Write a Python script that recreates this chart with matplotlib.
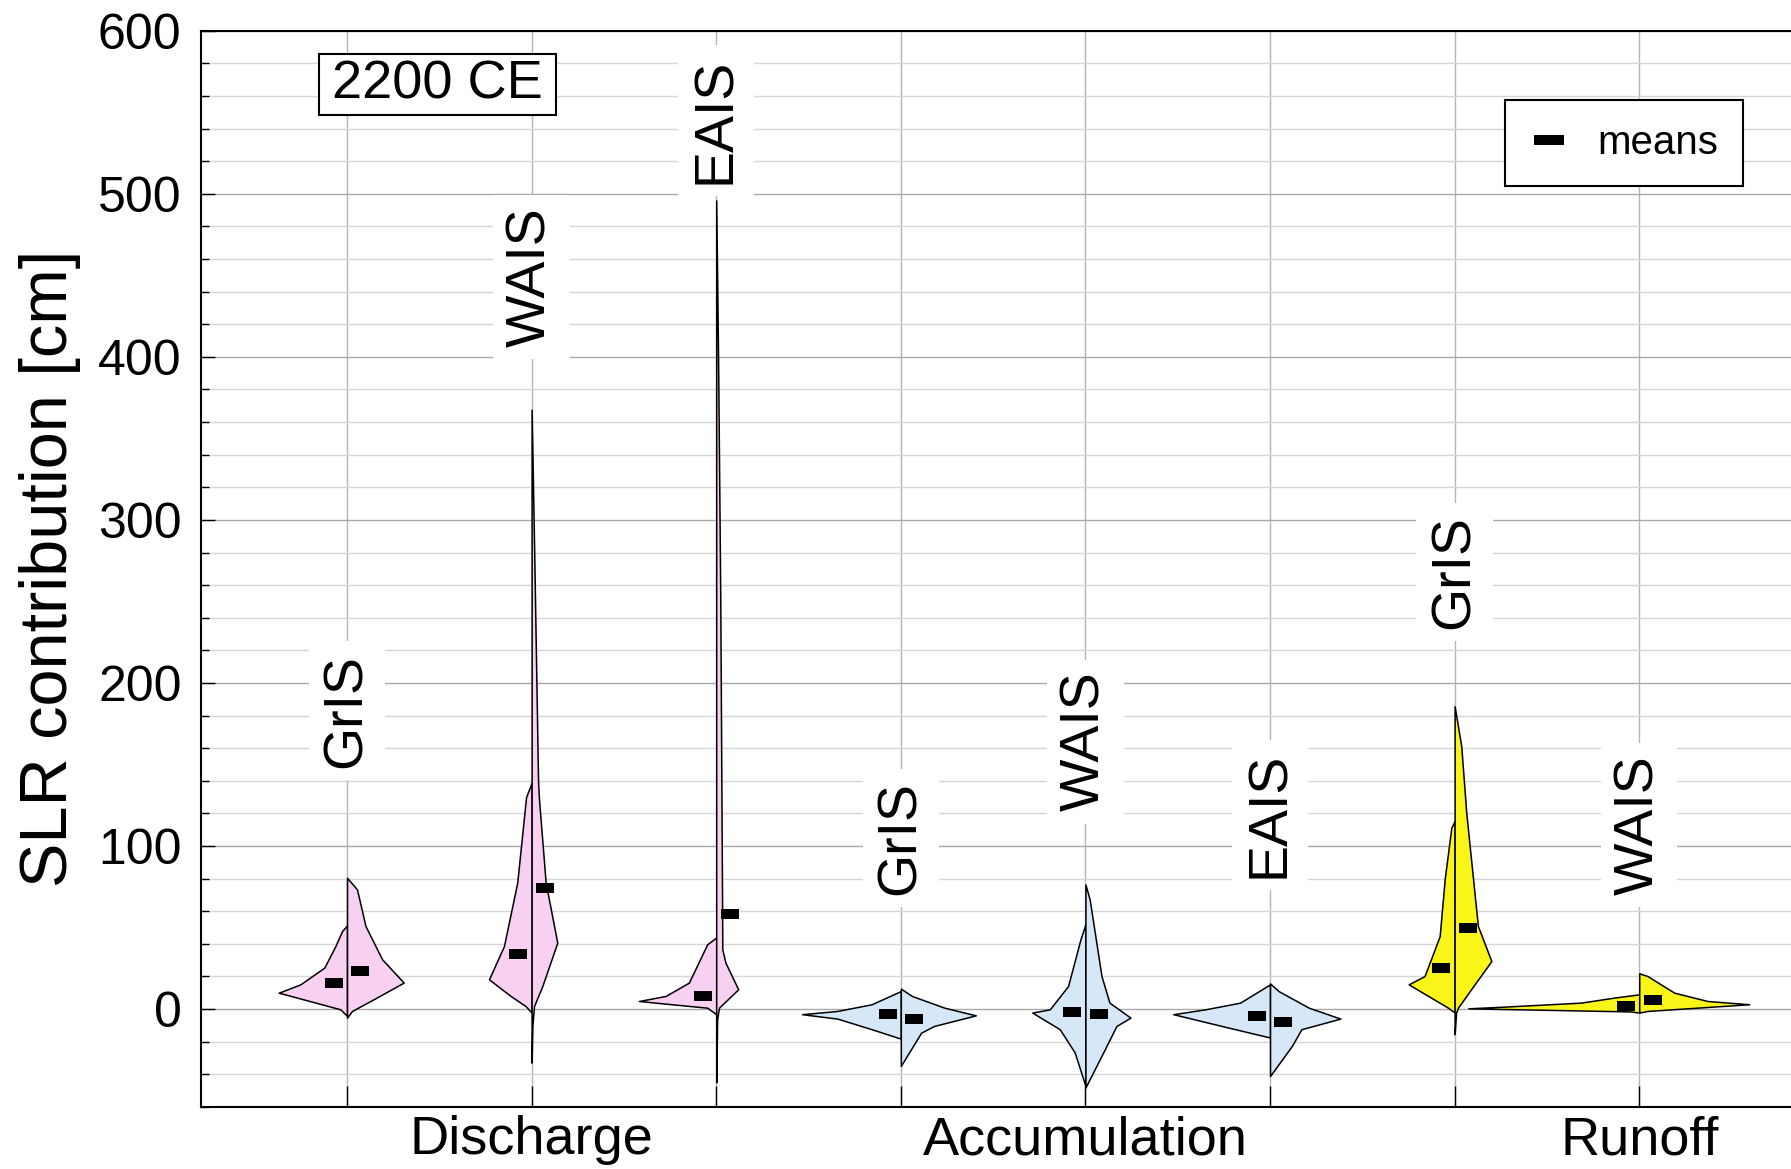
import matplotlib
matplotlib.use("Agg")
import matplotlib.pyplot as plt
from matplotlib.lines import Line2D
from matplotlib.patches import Rectangle
from matplotlib.ticker import MultipleLocator
import numpy as np

plt.rcParams["font.family"] = ["Liberation Sans", "DejaVu Sans"]

# Groups shown on the x axis and the ice sheet of each violin
group_labels = ["", "Discharge", "", "", "Accumulation", "", "", "Runoff"]
sheet_labels = ["GrIS", "WAIS", "EAIS", "GrIS", "WAIS", "EAIS", "GrIS", "WAIS"]
label_heights = [183, 449, 545, 105, 164, 119, 268, 113]

# Violin outlines: (SLR contribution [cm], relative density) from top to bottom
dis_gris_left = [(51.3, 0), (47.8, 0.027), (38.6, 0.063), (25.4, 0.123), (15.1, 0.253),
                 (10.0, 0.370), (3.9, 0.170), (-0.2, 0.036), (-4.3, 0)]
dis_gris_right = [(80.5, 0), (73.4, 0.054), (50.9, 0.10), (30.5, 0.19), (16.2, 0.307),
                  (5.9, 0.143), (-1.2, 0.027), (-5.3, 0)]
dis_wais_left = [(138.8, 0), (130, 0.03), (77.5, 0.078), (38.6, 0.15), (18.2, 0.231),
                 (8.0, 0.114), (1.8, 0.033), (-2.2, 0)]
dis_wais_right = [(367.6, 0), (280, 0.014), (139, 0.035), (128.6, 0.04), (77.5, 0.076),
                  (40.7, 0.139), (14.1, 0.058), (1.8, 0.013), (-10.4, 0.004), (-32.9, 0)]
dis_eais_left = [(43.8, 0), (39.7, 0.049), (16.2, 0.148), (8.0, 0.274), (4.9, 0.419),
                 (2.9, 0.24), (0.8, 0.049), (-3.2, 0)]
dis_eais_right = [(496, 0), (400, 0.01), (251, 0.022), (59, 0.032), (36.6, 0.033),
                  (28.4, 0.05), (12.1, 0.119), (0.8, 0.015), (-6.3, 0.005), (-45, 0)]
acc_gris_left = [(11.0, 0), (2.9, 0.158), (-1.2, 0.344), (-3.2, 0.535), (-5.9, 0.344),
                 (-12.4, 0.158), (-18.2, 0)]
acc_gris_right = [(12.5, 0), (8.0, 0.06), (0.8, 0.236), (-3.9, 0.406), (-10.4, 0.18),
                  (-14.5, 0.11), (-34.9, 0)]
acc_wais_left = [(51.9, 0), (42.7, 0.027), (14.1, 0.094), (-0.2, 0.193), (-2.2, 0.288),
                 (-12.4, 0.139), (-26.7, 0.058), (-47.2, 0)]
acc_wais_right = [(76.4, 0), (67.2, 0.023), (20.2, 0.087), (3.9, 0.13), (-5.3, 0.244),
                  (-10.4, 0.168), (-24.7, 0.105), (-48.2, 0)]
acc_eais_left = [(15.1, 0), (3.9, 0.162), (-0.2, 0.35), (-3.2, 0.524), (-10.4, 0.262),
                 (-17.5, 0)]
acc_eais_right = [(15.7, 0), (11.0, 0.046), (0.8, 0.21), (-5.9, 0.381), (-12.4, 0.17),
                  (-22.7, 0.118), (-41.1, 0)]
run_gris_left = [(115.3, 0), (111.2, 0.018), (79.5, 0.054), (44.7, 0.081), (20.2, 0.163),
                 (15.1, 0.249), (0.8, 0.036), (-2.2, 0)]
run_gris_right = [(185.7, 0), (161.2, 0.036), (120.4, 0.063), (50.9, 0.126), (29.4, 0.199),
                  (16.2, 0.115), (0.8, 0.018), (-2.2, 0.008), (-15.5, 0)]
run_wais_left = [(9.0, 0), (7.0, 0.135), (3.9, 0.316), (1.5, 0.722), (0.4, 0.926),
                 (-0.3, 0.6), (-1.5, 0.05), (-2.2, 0)]
run_wais_right = [(21.9, 0), (20.2, 0.045), (15.1, 0.117), (10.0, 0.19), (4.9, 0.37),
                  (2.9, 0.596), (1.5, 0.406), (-1.2, 0.045), (-2.2, 0)]

# Mean contributions [cm] of the left and right half of each violin
means_left = [16, 34, 8, -3, -2, -4, 25, 2]
means_right = [23.5, 74, 58.5, -6.3, -3, -8, 49.5, 5.5]

left_halves = [dis_gris_left, dis_wais_left, dis_eais_left, acc_gris_left,
               acc_wais_left, acc_eais_left, run_gris_left, run_wais_left]
right_halves = [dis_gris_right, dis_wais_right, dis_eais_right, acc_gris_right,
                acc_wais_right, acc_eais_right, run_gris_right, run_wais_right]

pink, blue, yellow = "#F8D0F2", "#D6E8F8", "#F9F518"
colors = [pink, pink, pink, blue, blue, blue, yellow, yellow]

fig = plt.figure(figsize=(17.91, 11.69), dpi=100)
ax = fig.add_axes([0.11223, 0.0532, 0.9061, 0.92045])
ax.set_xlim(0.209, 9.0)
ax.set_ylim(-60, 600)
ax.set_axisbelow(True)

positions = np.arange(1, len(sheet_labels) + 1)

for pos, left, right, col in zip(positions, left_halves, right_halves, colors):
    lp = np.array(left)
    rp = np.array(right)
    ax.fill_betweenx(lp[:, 0], pos - lp[:, 1], pos, facecolor=col,
                     edgecolor="black", linewidth=1.1, zorder=3)
    ax.fill_betweenx(rp[:, 0], pos, pos + rp[:, 1], facecolor=col,
                     edgecolor="black", linewidth=1.1, zorder=3)

# Small filled bars marking the means
bar_marker = [(-1, -0.56), (1, -0.56), (1, 0.56), (-1, 0.56), (-1, -0.56)]
ax.plot(positions - 0.072, means_left, ls="none", marker=bar_marker, ms=12.5,
        color="black", mew=0, zorder=5)
ax.plot(positions + 0.072, means_right, ls="none", marker=bar_marker, ms=12.5,
        color="black", mew=0, zorder=5)

for pos, lab, yc in zip(positions, sheet_labels, label_heights):
    ax.text(pos, yc, lab, rotation=90, ha="center", va="center", fontsize=40,
            bbox=dict(boxstyle="square,pad=0.22", fc="white", ec="none"), zorder=4)

# Year tag in its own framed box
ax.add_patch(Rectangle((0.0725, 0.9214), 0.1464, 0.0573, transform=ax.transAxes,
                       facecolor="white", edgecolor="black", lw=1.5, zorder=6))
ax.text(0.1457, 0.9505, "2200 CE", transform=ax.transAxes, ha="center",
        va="center", fontsize=39, zorder=7)

ax.set_xticks(positions)
ax.set_xticklabels(group_labels, fontsize=39)
ax.set_yticks(np.arange(0, 601, 100))
ax.yaxis.set_minor_locator(MultipleLocator(20))
ax.tick_params(axis="x", direction="in", length=15, width=1, pad=6)
ax.tick_params(axis="y", which="major", direction="in", length=10, width=1,
               labelsize=36, pad=14)
ax.tick_params(axis="y", which="minor", direction="in", length=6, width=1)

ax.grid(True, which="major", axis="y", color="#a9a9a9", lw=1.0)
ax.grid(True, which="minor", axis="y", color="#d6d6d6", lw=1.0)
ax.grid(True, which="major", axis="x", color="#b5b5b5", lw=1.0)
for sp in ax.spines.values():
    sp.set_linewidth(1.5)
    sp.set_color("black")

ax.set_ylabel("SLR contribution [cm]", fontsize=48, ha="center", va="center")
ax.yaxis.set_label_coords(0.028, 0.5134, transform=fig.transFigure)

legend_marker = [(-1, -0.35), (1, -0.35), (1, 0.35), (-1, 0.35), (-1, -0.35)]
handle = Line2D([], [], ls="none", marker=legend_marker, color="black", ms=21, mew=0)
leg = ax.legend([handle], ["means"], loc="center",
                bbox_to_anchor=(1623.6 / 1791, 1 - 142.7 / 1169),
                bbox_transform=fig.transFigure, fontsize=29,
                frameon=True, fancybox=False, edgecolor="black", framealpha=1,
                borderpad=0.6, handlelength=1.0, handletextpad=0.7)
leg.get_frame().set_linewidth(1.5)
leg.set_zorder(8)

fig.savefig("out.png", dpi=100)
